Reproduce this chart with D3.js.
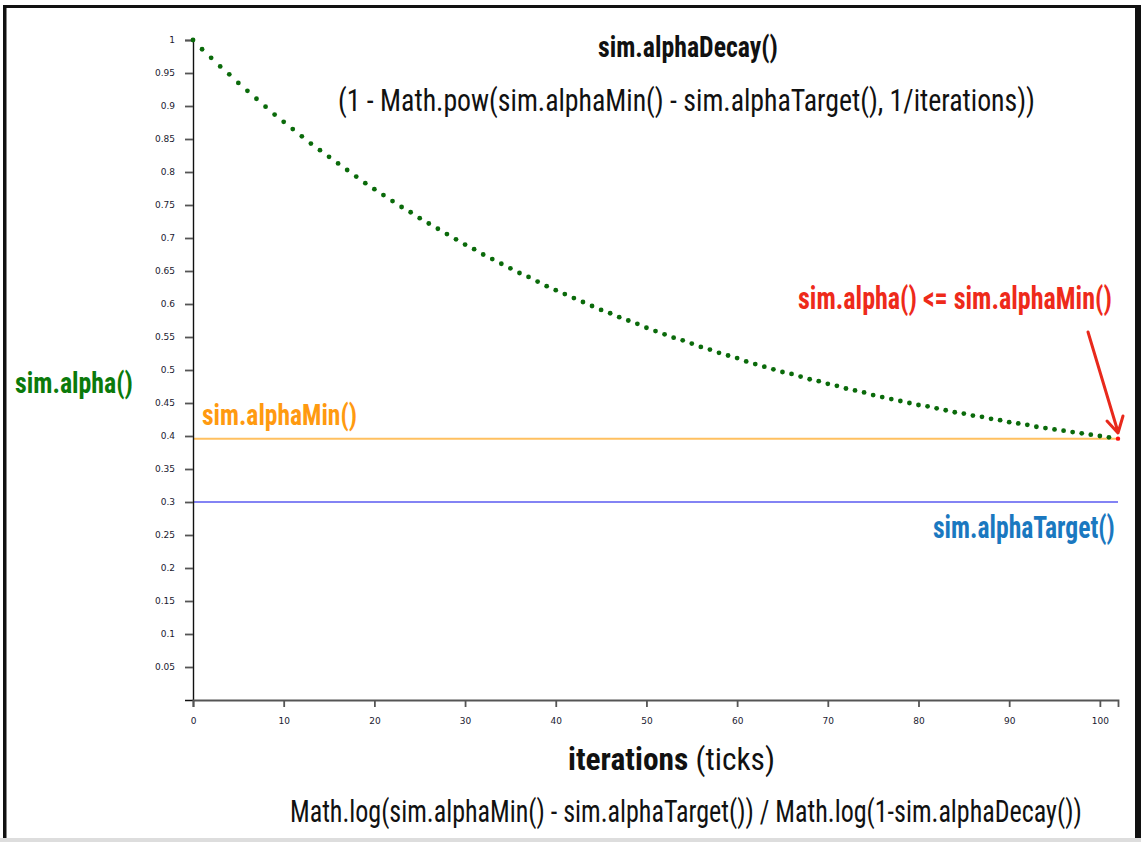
<!DOCTYPE html>
<html><head><meta charset="utf-8">
<script src="https://cdn.jsdelivr.net/npm/d3@7"></script>
<style>body{margin:0;background:#fff}</style>
</head><body><svg id="c" width="1141" height="842"></svg>
<script>
// ---- data ----
const alphaValues = [1.000,0.986,0.973,0.960,0.948,0.935,0.923,0.911,0.899,0.887,0.876,0.865,0.854,0.843,0.833,0.823,0.813,0.803,0.793,0.783,0.774,0.765,0.756,0.747,0.739,0.730,0.722,0.714,0.706,0.698,0.690,0.683,0.675,0.668,0.661,0.654,0.647,0.641,0.634,0.627,0.621,0.615,0.609,0.603,0.597,0.591,0.586,0.580,0.575,0.570,0.564,0.559,0.554,0.549,0.545,0.540,0.535,0.531,0.526,0.522,0.518,0.513,0.509,0.505,0.501,0.497,0.494,0.490,0.486,0.483,0.479,0.476,0.472,0.469,0.466,0.462,0.459,0.456,0.453,0.450,0.447,0.445,0.442,0.439,0.436,0.434,0.431,0.429,0.426,0.424,0.421,0.419,0.417,0.414,0.412,0.410,0.408,0.406,0.404,0.402,0.400,0.398,0.396];
const iterations = alphaValues.map((_, i) => i);
const alphaMin = 0.396;
const alphaTarget = 0.3;
const xMax = 102;
const xTicks = [0,10,20,30,40,50,60,70,80,90,100];
const yTicks = [0.05,0.1,0.15,0.2,0.25,0.3,0.35,0.4,0.45,0.5,0.55,0.6,0.65,0.7,0.75,0.8,0.85,0.9,0.95,1];

const svg = d3.select("#c");
const FONT = "'Liberation Sans Narrow','Roboto Condensed','DejaVu Sans Condensed',Roboto,'Noto Sans',sans-serif";

// frame
svg.append("rect").attr("x",0).attr("y",0).attr("width",1141).attr("height",842).attr("fill","#fff");
svg.append("rect").attr("x",3).attr("y",5).attr("width",3.5).attr("height",833).attr("fill","#111");
svg.append("rect").attr("x",3).attr("y",5).attr("width",1138).attr("height",3).attr("fill","#111");
svg.append("rect").attr("x",1135).attr("y",5).attr("width",6).attr("height",833).attr("fill","#111");
svg.append("rect").attr("x",0).attr("y",838).attr("width",1141).attr("height",4).attr("fill","#ddd");

const x = d3.scaleLinear().domain([0, xMax]).range([193, 1118]);
const y = d3.scaleLinear().domain([0, 1]).range([700, 40]);

// reference lines
svg.append("line").attr("x1",x(0)).attr("x2",x(xMax)).attr("y1",y(alphaMin)).attr("y2",y(alphaMin))
  .attr("stroke","#ffc060").attr("stroke-width",2);
svg.append("line").attr("x1",x(0)).attr("x2",x(xMax)).attr("y1",y(alphaTarget)).attr("y2",y(alphaTarget))
  .attr("stroke","#5a5af0").attr("stroke-width",1.5);

// axes
const yAxis = svg.append("g").attr("transform","translate(193,0)")
  .call(d3.axisLeft(y).tickValues(yTicks).tickSize(8).tickSizeOuter(8).tickPadding(10)
    .tickFormat(d => String(+d.toFixed(2))));
const xAxis = svg.append("g").attr("transform","translate(0,700)")
  .call(d3.axisBottom(x).tickValues(xTicks).tickSize(7).tickSizeOuter(7).tickPadding(11));
[yAxis, xAxis].forEach(g => {
  g.selectAll("text").attr("font-family","'DejaVu Sans',Verdana,sans-serif").attr("font-size",9).attr("fill","#1a1a30");
  g.selectAll(".tick line").attr("stroke","#555").attr("stroke-width",1.8);
});
yAxis.select(".domain").attr("stroke","#111").attr("stroke-width",1.4);
xAxis.select(".domain").attr("stroke","#555").attr("stroke-width",1.8);

// dots
svg.append("g").selectAll("circle").data(iterations).join("circle")
  .attr("cx", i => x(i)).attr("cy", i => y(alphaValues[i]))
  .attr("r", i => i === iterations.length - 1 ? 2.2 : 2.4)
  .attr("fill", i => i === iterations.length - 1 ? "#ff1010" : "#0a6a0a");

// texts: drawn at natural width, then squeezed horizontally to the reference width
function fit(t, xs, ys, len) {
  t.attr("x", 0).attr("y", 0);
  const w = t.node().getComputedTextLength() || len;
  t.attr("transform", `translate(${xs},${ys}) scale(${len / w},1)`);
  return t;
}
function label(str, xs, ys, size, weight, color, len) {
  const t = svg.append("text").attr("font-family", FONT)
    .attr("font-size", size).attr("font-weight", weight).attr("fill", color).text(str);
  return fit(t, xs, ys, len);
}
label("sim.alphaDecay()", 598, 57, 30, "bold", "#111", 180);
label("(1 - Math.pow(sim.alphaMin() - sim.alphaTarget(), 1/iterations))", 338, 111, 32, "normal", "#111", 697);
label("sim.alpha()", 15, 393, 30, "bold", "#0b7a0b", 118);
label("sim.alphaMin()", 202, 425, 30, "bold", "#ff9a10", 155);
label("sim.alphaTarget()", 933, 538, 31, "bold", "#1a78c0", 182);
label("sim.alpha() <= sim.alphaMin()", 798, 309, 31, "bold", "#ee2a1a", 314);

const it = svg.append("text").attr("font-family",FONT).attr("font-size",31).attr("fill","#111");
it.append("tspan").attr("font-weight","bold").text("iterations");
it.append("tspan").text(" (ticks)");
fit(it, 568, 770, 207);
label("Math.log(sim.alphaMin() - sim.alphaTarget()) / Math.log(1-sim.alphaDecay())", 290, 822, 31, "normal", "#111", 792);

// arrow
svg.append("path").attr("d","M1088,332 L1118,432 M1107,421 L1118,433 L1123,416")
  .attr("fill","none").attr("stroke","#e8291c").attr("stroke-width",3).attr("stroke-linecap","round").attr("stroke-linejoin","round");
</script></body></html>
